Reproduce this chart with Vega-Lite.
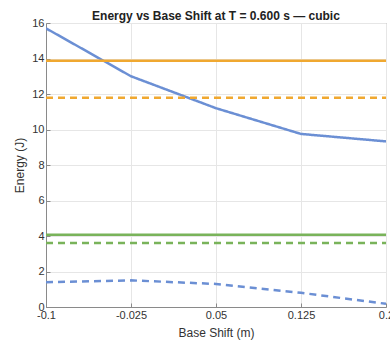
{
  "$schema": "https://vega.github.io/schema/vega-lite/v6.json",
  "width": 340,
  "height": 284,
  "autosize": {"type": "none"},
  "padding": {"left": 46, "top": 23, "right": 4, "bottom": 35},
  "background": "white",
  "title": {
    "text": "Energy vs Base Shift at T = 0.600 s — cubic",
    "font": "Liberation Sans",
    "fontSize": 12,
    "fontWeight": "bold",
    "color": "#222222",
    "anchor": "middle",
    "frame": "group",
    "offset": 2,
    "dy": 8
  },
  "config": {
    "view": {"stroke": "#8a8a8a", "strokeWidth": 1},
    "axis": {
      "labelFont": "Liberation Sans",
      "titleFont": "Liberation Sans",
      "labelFontSize": 11,
      "titleFontSize": 12,
      "labelColor": "#333333",
      "titleColor": "#333333",
      "titleFontWeight": "normal",
      "domainColor": "#8a8a8a",
      "tickColor": "#8a8a8a",
      "gridColor": "#e6e6e6",
      "gridWidth": 1
    }
  },
  "data": {
    "values": [
      {"x": -0.1, "y": 15.7, "group": "blue", "kind": "solid", "series": "blue solid"},
      {"x": -0.025, "y": 13.0, "group": "blue", "kind": "solid", "series": "blue solid"},
      {"x": 0.05, "y": 11.2, "group": "blue", "kind": "solid", "series": "blue solid"},
      {"x": 0.125, "y": 9.75, "group": "blue", "kind": "solid", "series": "blue solid"},
      {"x": 0.2, "y": 9.33, "group": "blue", "kind": "solid", "series": "blue solid"},
      {"x": -0.1, "y": 1.4, "group": "blue", "kind": "dashed", "series": "blue dashed"},
      {"x": -0.025, "y": 1.5, "group": "blue", "kind": "dashed", "series": "blue dashed"},
      {"x": 0.05, "y": 1.3, "group": "blue", "kind": "dashed", "series": "blue dashed"},
      {"x": 0.125, "y": 0.8, "group": "blue", "kind": "dashed", "series": "blue dashed"},
      {"x": 0.2, "y": 0.18, "group": "blue", "kind": "dashed", "series": "blue dashed"},
      {"x": -0.1, "y": 13.88, "group": "orange", "kind": "solid", "series": "orange solid"},
      {"x": -0.025, "y": 13.88, "group": "orange", "kind": "solid", "series": "orange solid"},
      {"x": 0.05, "y": 13.88, "group": "orange", "kind": "solid", "series": "orange solid"},
      {"x": 0.125, "y": 13.88, "group": "orange", "kind": "solid", "series": "orange solid"},
      {"x": 0.2, "y": 13.88, "group": "orange", "kind": "solid", "series": "orange solid"},
      {"x": -0.1, "y": 11.79, "group": "orange", "kind": "dashed", "series": "orange dashed"},
      {"x": -0.025, "y": 11.79, "group": "orange", "kind": "dashed", "series": "orange dashed"},
      {"x": 0.05, "y": 11.79, "group": "orange", "kind": "dashed", "series": "orange dashed"},
      {"x": 0.125, "y": 11.79, "group": "orange", "kind": "dashed", "series": "orange dashed"},
      {"x": 0.2, "y": 11.79, "group": "orange", "kind": "dashed", "series": "orange dashed"},
      {"x": -0.1, "y": 4.07, "group": "green", "kind": "solid", "series": "green solid"},
      {"x": -0.025, "y": 4.07, "group": "green", "kind": "solid", "series": "green solid"},
      {"x": 0.05, "y": 4.07, "group": "green", "kind": "solid", "series": "green solid"},
      {"x": 0.125, "y": 4.07, "group": "green", "kind": "solid", "series": "green solid"},
      {"x": 0.2, "y": 4.07, "group": "green", "kind": "solid", "series": "green solid"},
      {"x": -0.1, "y": 3.6, "group": "green", "kind": "dashed", "series": "green dashed"},
      {"x": -0.025, "y": 3.6, "group": "green", "kind": "dashed", "series": "green dashed"},
      {"x": 0.05, "y": 3.6, "group": "green", "kind": "dashed", "series": "green dashed"},
      {"x": 0.125, "y": 3.6, "group": "green", "kind": "dashed", "series": "green dashed"},
      {"x": 0.2, "y": 3.6, "group": "green", "kind": "dashed", "series": "green dashed"}
    ]
  },
  "mark": {"type": "line", "strokeWidth": 2.5, "clip": true},
  "encoding": {
    "x": {
      "field": "x",
      "type": "quantitative",
      "scale": {"domain": [-0.1, 0.2], "nice": false, "zero": false},
      "axis": {
        "title": "Base Shift (m)",
        "values": [-0.1, -0.025, 0.05, 0.125, 0.2],
        "labelExpr": "'' + datum.value",
        "tickSize": -4,
        "labelPadding": 6,
        "titlePadding": 7,
        "labelFlush": false
      }
    },
    "y": {
      "field": "y",
      "type": "quantitative",
      "scale": {"domain": [0, 16], "nice": false},
      "axis": {
        "title": "Energy (J)",
        "values": [0, 2, 4, 6, 8, 10, 12, 14, 16],
        "labelExpr": "'' + datum.value",
        "tickSize": -4,
        "labelPadding": 6,
        "titlePadding": 5
      }
    },
    "detail": {"field": "series"},
    "color": {
      "field": "group",
      "type": "nominal",
      "scale": {"domain": ["blue", "orange", "green"], "range": ["#6b8fd4", "#f0a830", "#79b35a"]},
      "legend": null
    },
    "strokeDash": {
      "field": "kind",
      "type": "nominal",
      "scale": {"domain": ["solid", "dashed"], "range": [[1, 0], [7, 5]]},
      "legend": null
    }
  }
}
